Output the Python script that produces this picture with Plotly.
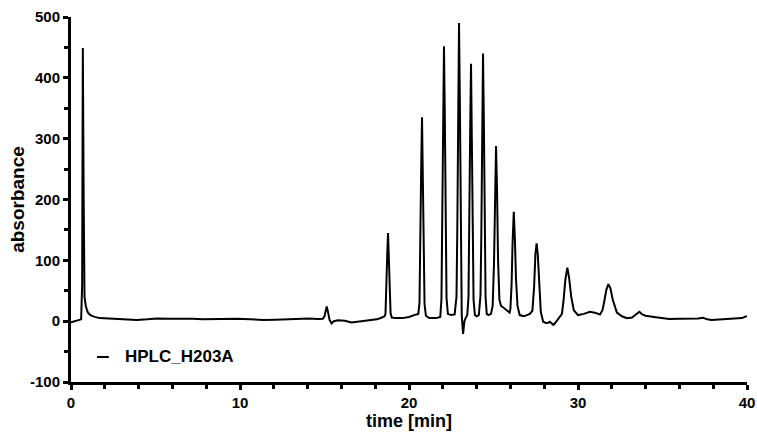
import plotly.graph_objects as go

series_name = "HPLC_H203A"

time_min = [
    0.0, 0.3, 0.6, 0.66, 0.70, 0.75, 0.8, 0.88, 1.0, 1.15, 1.4, 1.7, 2.5, 3.2, 3.9, 4.5, 5.1, 5.8, 6.5, 7.2,
    7.8, 8.8, 9.8, 10.6, 11.4, 12.1, 12.8, 13.5, 14.1, 14.6, 14.9,
    15.0, 15.08, 15.13, 15.2, 15.3, 15.42, 15.55, 15.8, 16.2, 16.6, 16.9, 17.3, 17.7, 18.1, 18.4, 18.55,
    18.61, 18.66, 18.71, 18.76, 18.81, 18.86, 18.91, 18.98, 19.2, 19.6, 20.0, 20.3, 20.55,
    20.62, 20.67, 20.72, 20.77, 20.82, 20.87, 20.92, 21.0, 21.2, 21.6, 21.85,
    21.92, 21.97, 22.02, 22.07, 22.12, 22.17, 22.22, 22.3, 22.5, 22.7,
    22.81, 22.86, 22.91, 22.96, 23.01, 23.06, 23.12, 23.2, 23.28, 23.35, 23.45,
    23.52, 23.57, 23.62, 23.67, 23.72, 23.77, 23.82, 23.9, 24.0, 24.13,
    24.23, 24.28, 24.33, 24.38, 24.43, 24.48, 24.53, 24.6, 24.7, 24.85,
    24.95, 25.03, 25.09, 25.15, 25.21, 25.27, 25.35, 25.45, 25.6, 25.8, 25.95,
    26.0, 26.07, 26.13, 26.2, 26.27, 26.33, 26.42, 26.55, 26.8, 27.0, 27.15,
    27.3, 27.4, 27.48, 27.55, 27.62, 27.7, 27.8, 27.94, 28.1, 28.24, 28.34, 28.45, 28.54, 28.65, 28.78,
    28.93, 29.05,
    29.15, 29.25, 29.37, 29.48, 29.6, 29.75, 30.0, 30.35, 30.7, 31.0, 31.3, 31.45,
    31.55, 31.68, 31.8, 31.92, 32.05, 32.3, 32.6, 32.9, 33.2, 33.4, 33.63, 33.8, 34.0, 34.5, 35.0,
    35.4, 36.0, 36.6, 37.1, 37.4, 37.65, 37.9, 38.4, 39.0, 39.4, 39.7, 39.9, 40.0,
]

absorbance = [
    -2, 0, 3, 60, 449, 200, 40, 24, 14, 10, 7, 5, 4, 3, 2, 3, 4.5, 4, 4.5, 4,
    3, 3.5, 4, 3, 2, 2.5, 3, 3.5, 4.5, 3.5, 4,
    8, 18, 24, 16, 2, -3.5, 0, 1.5, 0.5, -2, -1, 1.5, 2, 3, 6, 8,
    12, 46, 108, 145, 108, 46, 13, 6, 5, 5, 7, 10, 12,
    30, 108, 250, 335, 250, 108, 28, 9, 5, 5, 7,
    36, 143, 336, 452, 336, 143, 38, 12, 10, 11,
    40, 155, 363, 490, 360, 140, 10, -21, 0, 5, 10,
    40, 137, 315, 423, 315, 135, 35, 10, 8, 10,
    42, 143, 327, 440, 327, 143, 40, 12, 10, 12,
    25, 95, 215, 288, 215, 100, 35, 25, 22, 17, 14,
    20, 60, 130, 180, 132, 70, 25, 10, 8, 10, 12,
    17, 55, 110, 128, 110, 58, 15, -1, -3, -2.5, -1, -4, -6, -3, 2,
    7.5, 12,
    35, 68, 88, 70, 40, 18, 10, 12, 15.5, 14, 11, 18,
    32, 52, 61, 54, 36, 14, 8, 5, 6, 11, 15.5, 11, 9, 7, 5,
    3.5, 4, 4, 4.5, 5.5, 3, 2, 3, 4, 4, 5, 7.5, 8,
]

x_range = [0, 40]
y_range = [-100, 500]
x_tickvals = [0, 10, 20, 30, 40]
x_ticktext = ["0", "10", "20", "30", "40"]
y_tickvals = [-100, 0, 100, 200, 300, 400, 500]
y_ticktext = ["-100", "0", "100", "200", "300", "400", "500"]

FONT = "Liberation Sans, Arial, sans-serif"

fig = go.Figure()
fig.add_trace(go.Scatter(
    x=time_min, y=absorbance, mode="lines", name=series_name,
    line=dict(color="black", width=2), showlegend=False,
))

axis_common = dict(
    showline=True, linecolor="black", linewidth=3, mirror=False,
    showgrid=False, zeroline=False, automargin=False,
    ticks="outside", ticklen=5, tickwidth=2.5, tickcolor="black",
    tickfont=dict(family=FONT, size=15, color="black", weight="bold"),
)

fig.update_layout(
    width=757, height=432,
    margin=dict(l=71, r=10, t=17, b=50),
    paper_bgcolor="white", plot_bgcolor="white",
    xaxis=dict(
        range=x_range, tickmode="array", tickvals=x_tickvals, ticktext=x_ticktext,
        minor=dict(tickmode="linear", tick0=0, dtick=2, ticks="outside", ticklen=4, tickwidth=2.5, tickcolor="black"),
        title=dict(text="<b>time [min]</b>", font=dict(family=FONT, size=18, color="black"), standoff=3),
        **axis_common,
    ),
    yaxis=dict(
        range=y_range, tickmode="array", tickvals=y_tickvals, ticktext=y_ticktext,
        minor=dict(tickmode="linear", tick0=0, dtick=50, ticks="outside", ticklen=4, tickwidth=2.5, tickcolor="black"),
        title=dict(text="<b>absorbance</b>", font=dict(family=FONT, size=19, color="black"), standoff=1),
        **axis_common,
    ),
)

# legend drawn as key line + label
fig.add_shape(type="line", xref="paper", yref="paper",
              x0=0.0385, x1=0.056, y0=0.0685, y1=0.0685,
              line=dict(color="black", width=2))
fig.add_annotation(xref="paper", yref="paper", x=0.0765, y=0.0685,
                   xanchor="left", yanchor="middle", showarrow=False,
                   text="<b>" + series_name + "</b>",
                   font=dict(family=FONT, size=17, color="black"))

fig.write_html("out.html")
